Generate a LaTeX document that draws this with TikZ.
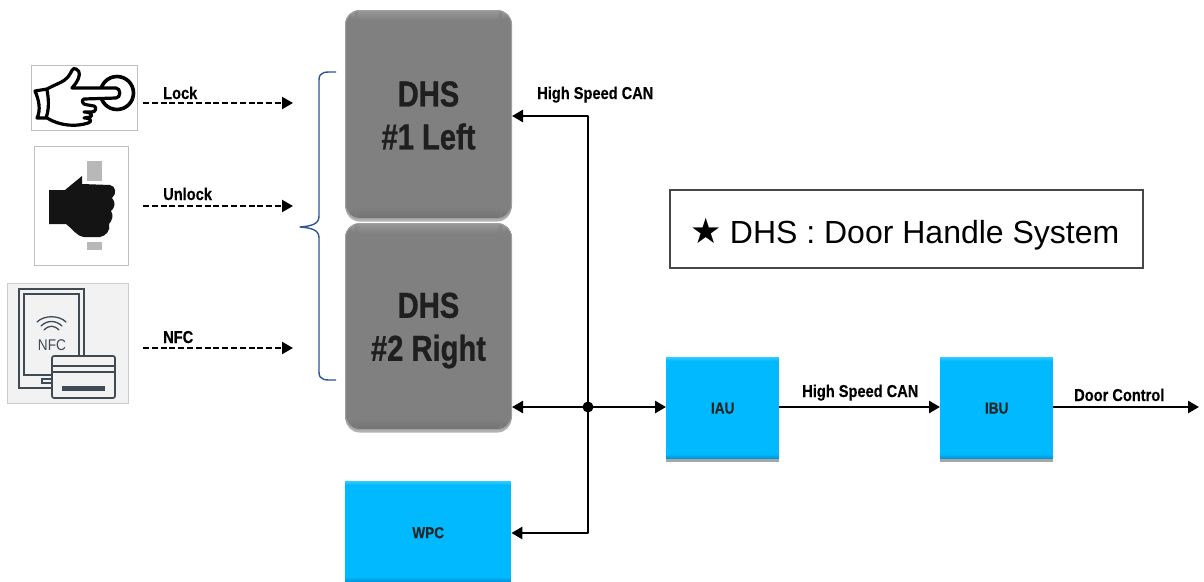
\documentclass[tikz,border=0pt]{standalone}
\usepackage{fontspec}
\setmainfont{Liberation Sans}
\newfontfamily\condb[FakeStretch=0.85,FakeBold=0.3]{Liberation Sans Bold}
\newfontfamily\condbig[FakeStretch=0.81,FakeBold=0.8]{Liberation Sans Bold}
\newfontfamily\condnorm[FakeStretch=0.88]{Liberation Sans}
\newfontfamily\stars{DejaVu Sans}
\usetikzlibrary{arrows.meta,shadows,calc}
\definecolor{cyanbox}{HTML}{00B9FF}
\definecolor{cyanhi}{HTML}{30CCFF}
\definecolor{cyanlo}{HTML}{0098D8}
\definecolor{graybox}{HTML}{808080}
\definecolor{grayhi}{HTML}{A0A0A0}
\definecolor{graylo}{HTML}{707070}
\definecolor{bracecol}{HTML}{2F5597}
\definecolor{iconline}{HTML}{3F4A54}
\newcommand{\bevelbox}[4]{%
 \foreach \k in {0,...,#4}{%
  \pgfmathtruncatemacro\pc{100-100*\k/#4}%
  \fill[#1!\pc!#2] ($(path picture bounding box.north west)+(0,\k)$) rectangle ($(path picture bounding box.north east)+(0,\k+1)$);
  \fill[#3!\pc!#2] ($(path picture bounding box.south west)+(0,-\k)$) rectangle ($(path picture bounding box.south east)+(0,-\k-1)$);
 }}
\tikzset{
 x=1pt,y=-1pt,
 dhsbox/.style={rounded corners=14pt,fill=graybox,draw=grayhi,line width=1pt,minimum width=166pt,
   anchor=north west,align=center,font=\condbig\fontsize{36}{43}\selectfont,text=black!88,
   drop shadow={shadow xshift=0pt,shadow yshift=-3pt,opacity=.3,fill=black},
   path picture={\bevelbox{grayhi}{graybox}{graylo}{10}}},
 bluebox/.style={fill=cyanbox,anchor=north west,font=\condb\fontsize{16}{18}\selectfont,text=black!85,
   drop shadow={shadow xshift=0pt,shadow yshift=-3pt,opacity=.35,fill=black},
   path picture={\bevelbox{cyanhi}{cyanbox}{cyanlo}{4}}},
 wire/.style={line width=2.6pt,draw=black,line join=round},
 arrowhead/.style={-{Triangle[width=12pt,length=11pt]}},
 bothheads/.style={{Triangle[width=12pt,length=11pt]}-{Triangle[width=12pt,length=11pt]}},
 dashwire/.style={line width=2.2pt,draw=black,dash pattern=on 6pt off 2.8pt,-{Triangle[width=12pt,length=11pt]}},
 lab/.style={font=\condb\fontsize{17.2}{20}\selectfont,text=black,inner sep=0pt,anchor=base west},
 iconframe/.style={draw=black!25,line width=.8pt,inner sep=0pt,anchor=north west},
 handline/.style={draw=black,line width=3.2pt,line join=round,line cap=round,fill=white},
}
\begin{document}
\begin{tikzpicture}
\useasboundingbox (0,0) rectangle (1204,581);
\fill[white] (0,0) rectangle (1204,581);

% --- icons ---
\node[iconframe,minimum width=106pt,minimum height=65pt] (lockicon) at (31,65) {};
\draw[draw=black,line width=3.6pt] (117,93) circle (16.5);
\draw[handline]
 (35,91) -- (47,89) .. controls (56,84) and (64,82) .. (68,77)
 .. controls (72,72) and (72,67) .. (76,69) .. controls (81,71) and (80,77) .. (76,83)
 -- (72,88) -- (116,88) .. controls (121,88) and (121,98) .. (116,98) -- (84,99)
 .. controls (81,100) and (82,105) .. (88,105) -- (94,106)
 .. controls (97,107) and (96,112) .. (92,112) -- (84,112)
 .. controls (92,112) and (93,116) .. (90,117) -- (84,118)
 .. controls (92,118) and (92,122) .. (88,123)
 .. controls (76,127) and (60,126) .. (47,118) -- (37,118)
 .. controls (41,110) and (39,100) .. (35,91) -- cycle;
\draw[draw=black,line width=3.2pt] (47,90) .. controls (49,100) and (49,110) .. (46,118);

\node[iconframe,minimum width=94pt,minimum height=119pt] (unlockicon) at (34,146) {};
\fill[black!28] (87,161) rectangle (102,181);
\fill[black!28] (87,242) rectangle (102,250);
\fill[black!92] (49,190) -- (65,190) -- (82,176) -- (82,184) -- (110,185)
 .. controls (116,186) and (117,194) .. (112,198)
 .. controls (116,202) and (115,208) .. (111,211)
 .. controls (114,215) and (112,221) .. (109,224)
 .. controls (111,230) and (106,236) .. (100,237)
 -- (84,237) .. controls (76,236) and (72,228) .. (66,224) -- (49,224) -- cycle;

\node[draw=black!20,fill=black!5,line width=.8pt,inner sep=0pt,anchor=north west,minimum width=121pt,minimum height=120pt] (nfcicon) at (7,283) {};
\draw[iconline,line width=2.2pt] (19,289) rectangle (84,388);
\draw[iconline,line width=1.5pt] (24,294) rectangle (79,375);
\draw[iconline,line width=1.2pt] (42,379) rectangle (52,383);
\draw[iconline,line width=1.3pt,line cap=round] (37,322) .. controls (44,315) and (59,315) .. (66,322);
\draw[iconline,line width=1.3pt,line cap=round] (41,326) .. controls (47,320) and (56,320) .. (62,326);
\draw[iconline,line width=1.3pt,line cap=round] (44,330) .. controls (49,325) and (54,325) .. (59,330);
\node[font=\condnorm\fontsize{15.5}{18}\selectfont,text=iconline,inner sep=0pt] (nfctext) at (52,345) {NFC};
\draw[iconline,fill=black!5,line width=1.7pt,rounded corners=2pt] (52,356) rectangle (115,398);
\draw[iconline,line width=1.4pt] (52,366) -- (115,366);
\draw[iconline,line width=1.4pt] (52,372) -- (115,372);
\fill[iconline] (62,386) rectangle (105,391);

% --- dashed inputs ---
\coordinate (lockS) at (143,103);   \coordinate (lockE) at (293,103);
\coordinate (unlockS) at (143,206); \coordinate (unlockE) at (293,206);
\coordinate (nfcS) at (143,348);    \coordinate (nfcE) at (293,348);
\draw[dashwire] (lockS) -- (lockE);
\draw[dashwire] (unlockS) -- (unlockE);
\draw[dashwire] (nfcS) -- (nfcE);
\node[lab] (locklab) at (163,99) {Lock};
\node[lab] (unlocklab) at (163,200) {Unlock};
\node[lab] (nfclab) at (163,343) {NFC};

% --- brace ---
\draw[bracecol,line width=1.4pt,line join=round]
 (336,72) .. controls (326,72) and (319,71) .. (319,80) -- (319,216)
 .. controls (319,224) and (312,226) .. (300,227)
 .. controls (312,228) and (319,230) .. (319,238) -- (319,372)
 .. controls (319,381) and (326,380) .. (336,380);

% --- main boxes ---
\node[dhsbox,minimum height=208pt,inner sep=0pt] (dhs1) at (345,10) {\raisebox{-1pt}[\height][\depth]{\parbox{166pt}{\centering DHS\\\#1 Left}}};
\node[dhsbox,minimum height=206pt,inner sep=0pt] (dhs2) at (345,223) {\raisebox{-4pt}[\height][\depth]{\parbox{166pt}{\centering DHS\\\#2 Right}}};
\node[bluebox,minimum width=166pt,minimum height=101pt] (wpc) at (345,481) {\raisebox{-1pt}[\height][\depth]{WPC}};
\node[bluebox,minimum width=113pt,minimum height=102pt] (iau) at (666,357) {IAU};
\node[bluebox,minimum width=113pt,minimum height=102pt] (ibu) at (940,357) {IBU};
\node[draw=black!72,line width=2pt,fill=white,anchor=north west,minimum width=473pt,minimum height=78pt,
      font=\fontsize{32}{38}\selectfont,inner sep=0pt] (note) at (668.5,188.5) {\raisebox{-5.5pt}[\height][\depth]{\hspace{-2pt}{\stars\fontsize{35}{38}\selectfont ★}\hspace{-1pt} DHS : Door Handle System}};

% --- bus ---
\coordinate (busTop) at (588,116);
\coordinate (busBot) at (588,533);
\coordinate (bus) at (588,407);
\coordinate (doorE) at (1199,407);
\draw[wire,arrowhead] (busBot) -- (busTop) -- (dhs1.east |- busTop);
\draw[wire,arrowhead] (busTop) -- (busBot) -- (wpc.east |- busBot);
\draw[wire,bothheads] (dhs2.east |- bus) -- (iau.west |- bus);
\fill[black] (bus) circle (5.5);
\draw[wire,arrowhead] (iau.east |- bus) -- (ibu.west |- bus);
\draw[wire,arrowhead] (ibu.east |- bus) -- (doorE);

\node[lab] (can1) at (537,99) {High Speed CAN};
\node[lab] (can2) at (802,397) {High Speed CAN};
\node[lab] (door) at (1074,401) {Door Control};
\end{tikzpicture}
\end{document}
